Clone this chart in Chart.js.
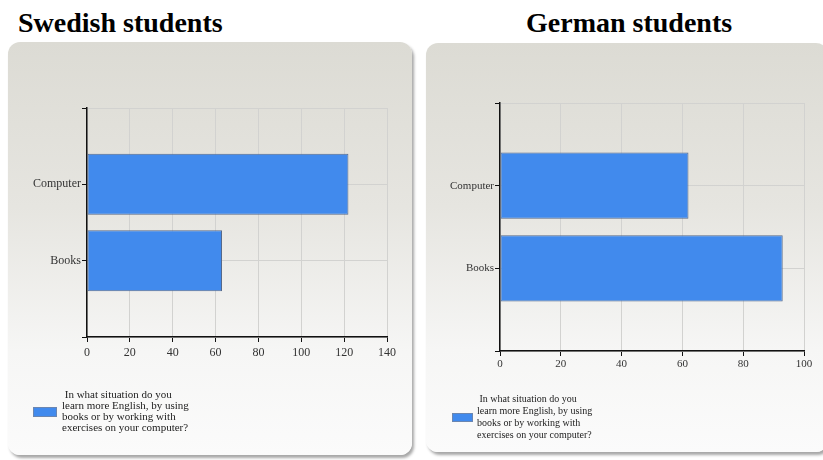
<!DOCTYPE html>
<html>
<head>
<meta charset="utf-8">
<script src="https://cdn.jsdelivr.net/npm/chart.js@4.4.0/dist/chart.umd.min.js"></script>
<style>
  html, body { margin: 0; padding: 0; background: #fff; }
  body { width: 823px; height: 460px; position: relative; overflow: hidden; }
  .title {
    position: absolute; top: 9px; margin: 0;
    font: bold 28px "Liberation Serif", "Times New Roman", serif;
    line-height: 28px; color: #000; white-space: nowrap;
  }
  .panel {
    position: absolute;
    border-radius: 12px;
    background: linear-gradient(to bottom, #dcdbd4 0%, #e6e5e0 40%, #f6f6f5 75%, #fbfbfb 100%);
    box-shadow: 2px 3px 3px rgba(0, 0, 0, 0.35);
  }
  .panel canvas { position: absolute; left: 0; top: 0; }
</style>
</head>
<body>
<div class="title" style="left:18px">Swedish students</div>
<div class="title" style="left:526px">German students</div>

<div class="panel" style="left:8px; top:42px; width:404px; height:413px;">
  <canvas id="swedish" width="404" height="413"></canvas>
</div>
<div class="panel" style="left:426px; top:43px; width:402px; height:409px;">
  <canvas id="german" width="402" height="409"></canvas>
</div>

<script>
// data
const categories = ['Computer', 'Books'];
const swedishValues = [122, 63];
const germanValues = [62, 93];
const swedishTicks = [0, 20, 40, 60, 80, 100, 120, 140];
const germanTicks = [0, 20, 40, 60, 80, 100];
const legendLines = [
    ' In what situation do you',
    'learn more English, by using',
    'books or by working with',
    'exercises on your computer?'
];

const barBlue = '#418aed';

// legend drawn inside the panel, below the plot
const questionLegend = {
    id: 'questionLegend',
    afterDraw(chart, args, opts) {
        const ctx = chart.ctx;
        ctx.save();
        ctx.fillStyle = barBlue;
        ctx.strokeStyle = '#6b86b0';
        ctx.lineWidth = 1;
        ctx.fillRect(opts.boxX, opts.boxY, opts.boxW, opts.boxH);
        ctx.strokeRect(opts.boxX + 0.5, opts.boxY + 0.5, opts.boxW - 1, opts.boxH - 1);
        ctx.fillStyle = '#222';
        ctx.font = opts.fontSize + 'px "Liberation Serif", serif';
        ctx.textBaseline = 'middle';
        legendLines.forEach((line, i) => {
            ctx.fillText(line, opts.textX, opts.textY + i * opts.lineGap);
        });
        ctx.restore();
    }
};

function makeChart(id, values, ticks, max, geo) {
    new Chart(document.getElementById(id), {
        type: 'bar',
        data: {
            labels: ['', ...categories, ''],
            datasets: [{
                label: legendLines.join(' '),
                data: [null, ...values, null],
                backgroundColor: barBlue,
                borderColor: '#56698a',
                borderWidth: 1,
                borderSkipped: false,
                categoryPercentage: 0.8,
                barPercentage: 1
            }]
        },
        options: {
            indexAxis: 'y',
            responsive: false,
            animation: false,
            layout: { padding: { left: 0, top: geo.top, right: geo.right, bottom: geo.bottom } },
            plugins: {
                legend: { display: false },
                tooltip: { enabled: false },
                questionLegend: geo.legend
            },
            scales: {
                x: {
                    type: 'linear',
                    min: 0,
                    max: max,
                    afterBuildTicks: (scale) => { scale.ticks = ticks.map(v => ({ value: v })); },
                    afterFit: (scale) => { scale.height = 22; },
                    grid: { color: '#d2d2d0', tickColor: '#111', tickLength: 5, lineWidth: 1 },
                    border: { color: '#111', width: 1.5 },
                    ticks: { color: '#333', padding: geo.xPad, font: { family: '"Liberation Serif", serif', size: geo.font } }
                },
                y: {
                    type: 'category',
                    offset: false,
                    afterFit: (scale) => { scale.width = geo.yWidth; },
                    grid: { offset: false, color: '#d2d2d0', tickColor: '#111', tickLength: 5, lineWidth: 1 },
                    border: { color: '#111', width: 1.5 },
                    ticks: { color: '#333', padding: 1, autoSkip: false, font: { family: '"Liberation Serif", serif', size: geo.font } }
                }
            }
        },
        plugins: [questionLegend]
    });
}

makeChart('swedish', swedishValues, swedishTicks, 140, {
    top: 66, right: 25, bottom: 96, yWidth: 79, font: 12, xPad: 4,
    legend: { boxX: 25, boxY: 365, boxW: 24, boxH: 10, textX: 54, textY: 353, lineGap: 11, fontSize: 11 }
});

makeChart('german', germanValues, germanTicks, 100, {
    top: 60, right: 24, bottom: 79, yWidth: 74, font: 11, xPad: 2,
    legend: { boxX: 26, boxY: 370, boxW: 21, boxH: 9, textX: 51, textY: 356, lineGap: 12, fontSize: 10 }
});
</script>
</body>
</html>
